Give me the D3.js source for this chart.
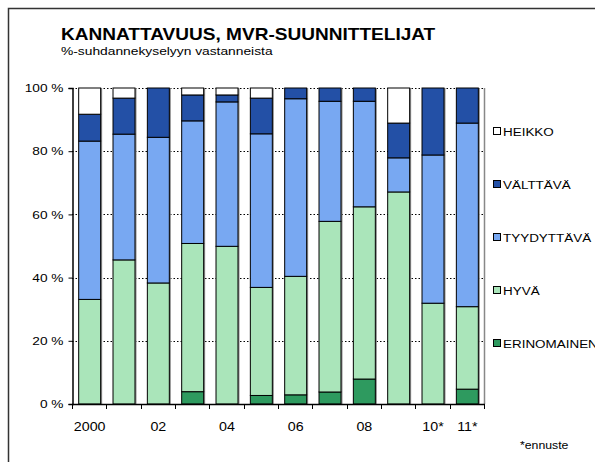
<!DOCTYPE html>
<html>
<head>
<meta charset="utf-8">
<script src="https://cdn.jsdelivr.net/npm/d3@7"></script>
<style>
  body { margin: 0; background: #fff; }
  svg { font-family: "Liberation Sans", Arial, sans-serif; }
</style>
</head>
<body>
<div id="root"></div>
<script>
const root = document.getElementById('root');

// Data (% of respondents)
const years = ['2000', '01', '02', '03', '04', '05', '06', '07', '08', '09', '10*', '11*'];
const tickLabels = ['2000', '', '02', '', '04', '', '06', '', '08', '', '10*', '11*'];
const erinomainen = [0, 0, 0, 3.9, 0, 2.7, 2.9, 3.8, 7.9, 0, 0, 4.7];
const hyva = [33.1, 45.6, 38.3, 46.9, 49.9, 34.2, 37.5, 54.0, 54.5, 67.1, 31.9, 26.1];
const tyydyttava = [50.1, 39.8, 46.1, 38.8, 45.7, 48.6, 56.2, 38.0, 33.4, 10.8, 46.9, 58.1];
const valttava = [8.5, 11.4, 15.6, 8.2, 2.2, 11.3, 3.4, 4.2, 4.2, 11.0, 21.2, 11.1];
const heikko = [8.3, 3.2, 0, 2.2, 2.2, 3.2, 0, 0, 0, 11.1, 0, 0];

const seriesNames = ['ERINOMAINEN', 'HYVÄ', 'TYYDYTTÄVÄ', 'VÄLTTÄVÄ', 'HEIKKO'];
const seriesColors = ['#2e9a5f', '#aae5ba', '#78a8f2', '#2350a6', '#ffffff'];
const yTicks = [0, 20, 40, 60, 80, 100];

const width = 595;
const height = 462;
const plotLeft = 72, plotRight = 484, plotTop = 88, plotBottom = 404;
const stretch = 1.17; // the original chart's text is stretched sideways

const svg = d3.select(root)
    .append('svg')
    .attr('width', width)
    .attr('height', height);

// text with a horizontal stretch
const addText = (g, x, y, str, size, anchor = 'start', weight = 'normal') =>
    g.append('text')
        .attr('transform', `translate(${x},${y}) scale(${stretch},1)`)
        .attr('font-size', size)
        .attr('font-weight', weight)
        .attr('text-anchor', anchor)
        .text(str);

// outer frame
svg.append('rect')
    .attr('x', 8.5).attr('y', 8.5)
    .attr('width', 600).attr('height', 470)
    .attr('fill', 'none')
    .attr('stroke', '#333')
    .attr('stroke-width', 1.5);

// titles
addText(svg, 61, 40, 'KANNATTAVUUS, MVR-SUUNNITTELIJAT', 16.3, 'start', 'bold');
addText(svg, 61, 54.5, '%-suhdannekyselyyn vastanneista', 11.8);

// scales
const x = d3.scaleBand()
    .domain(years)
    .range([plotLeft, plotRight])
    .paddingInner(0.36)
    .paddingOuter(0.18);
const y = d3.scaleLinear()
    .domain([0, 100])
    .range([plotBottom, plotTop]);

// gridlines
svg.append('g')
    .selectAll('line')
    .data(yTicks.filter(d => d > 0))
    .join('line')
    .attr('x1', plotLeft).attr('x2', plotRight)
    .attr('y1', d => Math.round(y(d)) + 0.5)
    .attr('y2', d => Math.round(y(d)) + 0.5)
    .attr('stroke', '#000')
    .attr('stroke-dasharray', '1.5,2');

// plot right border
svg.append('line')
    .attr('x1', plotRight + 0.5).attr('x2', plotRight + 0.5)
    .attr('y1', plotTop).attr('y2', plotBottom)
    .attr('stroke', '#888')
    .attr('stroke-width', 1.5);

// stack
const table = years.map((yr, i) => ({
    year: yr,
    ERINOMAINEN: erinomainen[i],
    'HYVÄ': hyva[i],
    'TYYDYTTÄVÄ': tyydyttava[i],
    'VÄLTTÄVÄ': valttava[i],
    HEIKKO: heikko[i]
}));
const stacked = d3.stack().keys(seriesNames)(table);

// bar shadows
svg.append('g')
    .selectAll('rect')
    .data(table)
    .join('rect')
    .attr('x', d => x(d.year) + 2)
    .attr('y', plotTop)
    .attr('width', x.bandwidth())
    .attr('height', plotBottom - plotTop)
    .attr('fill', '#8a8a8a');

const layers = svg.append('g')
    .selectAll('g')
    .data(stacked)
    .join('g')
    .attr('fill', (d, i) => seriesColors[i]);

layers.selectAll('rect')
    .data(d => d.filter(s => s[1] - s[0] > 0))
    .join('rect')
    .attr('x', d => x(d.data.year) + 0.5)
    .attr('y', d => y(d[1]))
    .attr('width', x.bandwidth())
    .attr('height', d => y(d[0]) - y(d[1]))
    .attr('stroke', '#000')
    .attr('stroke-width', 1);

// y axis (ticks from d3, labels stretched)
const yAxis = d3.axisLeft(y)
    .tickValues(yTicks)
    .tickFormat('')
    .tickSize(4);
const gy = svg.append('g')
    .attr('transform', `translate(${plotLeft + 0.5},0)`)
    .call(yAxis);
gy.select('.domain').attr('stroke', '#000').attr('stroke-width', 1.5);
const yLabels = svg.append('g');
yTicks.forEach(t => addText(yLabels, 63.5, y(t) + 4.2, t + ' %', 11.7, 'end'));

// x axis: ticks between categories
const boundaries = d3.range(years.length + 1).map(i => plotLeft + i * (plotRight - plotLeft) / years.length);
svg.append('line')
    .attr('x1', plotLeft).attr('x2', plotRight + 1)
    .attr('y1', plotBottom + 0.5).attr('y2', plotBottom + 0.5)
    .attr('stroke', '#000')
    .attr('stroke-width', 1.5);
svg.append('g')
    .selectAll('line')
    .data(boundaries)
    .join('line')
    .attr('x1', d => Math.round(d) + 0.5).attr('x2', d => Math.round(d) + 0.5)
    .attr('y1', plotBottom).attr('y2', plotBottom + 5)
    .attr('stroke', '#000');
const xLabels = svg.append('g');
years.forEach((yr, i) => {
    if (tickLabels[i]) addText(xLabels, x(yr) + x.bandwidth() / 2 + 0.5, 430.5, tickLabels[i], 12.2, 'middle');
});

// legend
const legend = svg.append('g')
    .selectAll('g')
    .data(seriesNames.slice().reverse())
    .join('g')
    .attr('transform', (d, i) => `translate(493,${131 + i * 53})`);
legend.append('rect')
    .attr('x', 0.5).attr('y', -3.5)
    .attr('width', 7).attr('height', 7)
    .attr('fill', d => seriesColors[seriesNames.indexOf(d)])
    .attr('stroke', '#000');
legend.each(function (d) {
    addText(d3.select(this), 10, 4.5, d, 11.5);
});

// footnote
addText(svg, 520, 449, '*ennuste', 10.5);
</script>
</body>
</html>
